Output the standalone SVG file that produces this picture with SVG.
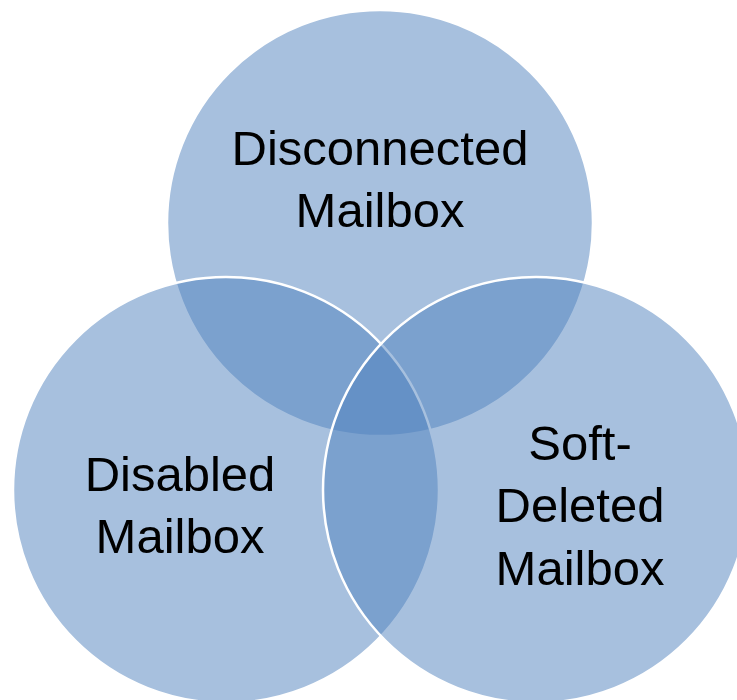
<svg xmlns="http://www.w3.org/2000/svg" width="737" height="700" viewBox="0 0 737 700">
<style>
.c{fill:#4f81bd;fill-opacity:0.5;stroke:#ffffff;stroke-width:2.5}
.t{font-family:"Liberation Sans",Arial,sans-serif;font-size:49px;fill:#000000;text-anchor:middle}
</style>
<rect width="737" height="700" fill="#ffffff"/>
<g id="disconnected">
<circle class="c" cx="380" cy="223" r="213"/>
</g>
<g id="disabled">
<circle class="c" cx="226" cy="490" r="213"/>
</g>
<g id="softdeleted">
<circle class="c" cx="536" cy="490" r="213"/>
</g>
<g id="labels">
<text class="t" x="380" y="165">Disconnected</text>
<text class="t" x="380" y="227">Mailbox</text>
<text class="t" x="180" y="491">Disabled</text>
<text class="t" x="180" y="553">Mailbox</text>
<text class="t" x="580" y="460">Soft-</text>
<text class="t" x="580" y="522">Deleted</text>
<text class="t" x="580" y="585">Mailbox</text>
</g>
<g id="connectors"></g>
</svg>
